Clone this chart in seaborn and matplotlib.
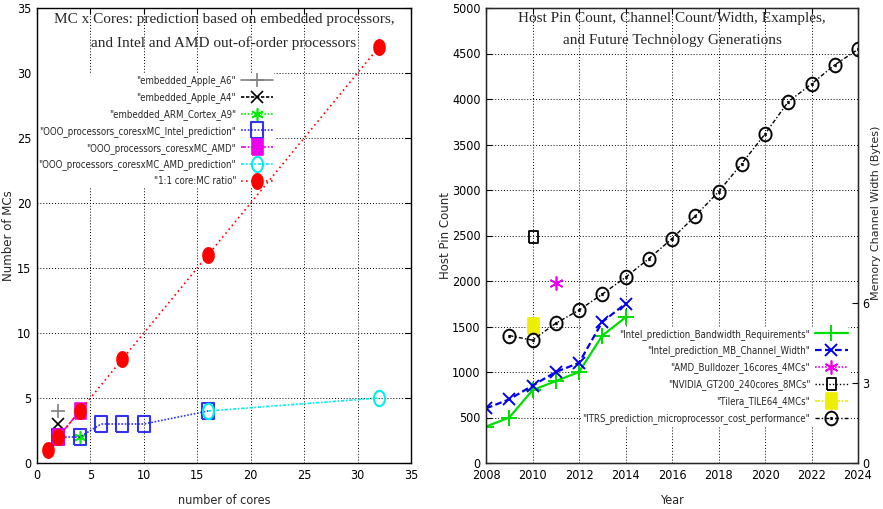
import numpy as np
import matplotlib
matplotlib.use("Agg")
import matplotlib.pyplot as plt
import seaborn as sns

# left panel: MCs vs cores
apple_a6_cores = [2]
apple_a6_mcs = [4]
apple_a4_cores = [2]
apple_a4_mcs = [3]
arm_a9_cores = [4]
arm_a9_mcs = [2]
intel_pred_cores = [2, 4, 6, 8, 10, 16]
intel_pred_mcs = [2, 2, 3, 3, 3, 4]
amd_cores = [2, 4]
amd_mcs = [2, 4]
amd_pred_cores = [16, 32]
amd_pred_mcs = [4, 5]
ratio_cores = [1, 2, 4, 8, 16, 32]
ratio_mcs = [1, 2, 4, 8, 16, 32]

# right panel: pin count vs year
intel_bw_years = [2008, 2009, 2010, 2011, 2012, 2013, 2014]
intel_bw_pins = [400, 500, 800, 900, 1000, 1400, 1600]
intel_cw_years = [2008, 2009, 2010, 2011, 2012, 2013, 2014]
intel_cw_pins = [600, 700, 850, 1000, 1100, 1550, 1750]
bulldozer_years = [2011]
bulldozer_pins = [1975]
gt200_years = [2010]
gt200_pins = [2480]
tilera_years = [2010]
tilera_pins = [1510]
itrs_years = list(range(2009, 2025))
itrs_pins = [1400, 1350, 1535, 1680, 1855, 2040, 2245, 2465, 2715, 2980,
             3290, 3615, 3970, 4165, 4375, 4545]
width_ticks = [0, 3, 6]

sns.set_style("white")
plt.rcParams["font.family"] = ["DejaVu Sans"]
plt.rcParams["font.stretch"] = "condensed"
SERIF = ["Liberation Serif", "DejaVu Serif"]

# gnuplot-ish tall marker shapes
t = np.linspace(0, 2 * np.pi, 33)
TALL_BOX = [(-0.72, -1), (0.72, -1), (0.72, 1), (-0.72, 1), (-0.72, -1)]
TALL_OVAL = list(zip(0.72 * np.cos(t), np.sin(t)))

fig = plt.figure(figsize=(8.83, 5.09), dpi=100)
W, H = 883, 509
ax1 = fig.add_axes([37 / W, 1 - 463 / H, 374 / W, 455 / H])
ax2 = fig.add_axes([486 / W, 1 - 463 / H, 372 / W, 455 / H])


def style_axes(ax):
    for s in ax.spines.values():
        s.set_color("black")
        s.set_linewidth(1.0)
    ax.grid(True, color="black", linestyle=(0, (1, 2)), linewidth=0.7)
    ax.tick_params(direction="in", length=4, labelsize=9, top=True,
                   colors="black", pad=4)
    ax.set_axisbelow(True)


def draw(ax, xs, ys, lab, color, **kw):
    kw.setdefault("markeredgecolor", color)
    kw.setdefault("markeredgewidth", 1.2)
    kw.setdefault("linewidth", 1.2)
    sns.lineplot(x=xs, y=ys, ax=ax, label=lab, color=color, **kw)


def gnu_legend(ax, anchor):
    leg = ax.legend(loc="upper right", bbox_to_anchor=anchor,
                    markerfirst=False, frameon=True, framealpha=1,
                    edgecolor="none", fontsize=6.9, handlelength=3.4,
                    labelspacing=0.62, borderpad=0.2, handletextpad=0.5)
    leg._legend_box.align = "right"
    leg.set_zorder(1)
    return leg


# ---- left panel
draw(ax1, apple_a6_cores, apple_a6_mcs, '"embedded_Apple_A6"', "gray",
     marker="+", markersize=10, linestyle="-")
draw(ax1, apple_a4_cores, apple_a4_mcs, '"embedded_Apple_A4"', "black",
     marker="x", markersize=8, linestyle=(0, (2, 1)))
draw(ax1, arm_a9_cores, arm_a9_mcs, '"embedded_ARM_Cortex_A9"', "#00ee00",
     marker=(6, 2, 0), markersize=9, linestyle=(0, (1, 1)))
draw(ax1, intel_pred_cores, intel_pred_mcs,
     '"OOO_processors_coresxMC_Intel_prediction"', "#1010ee",
     marker=TALL_BOX, markersize=12, markerfacecolor="none",
     markeredgewidth=1.5, linestyle=(0, (1, 1)), alpha=0.85)
draw(ax1, amd_cores, amd_mcs, '"OOO_processors_coresxMC_AMD"', "#ee00ee",
     marker=TALL_BOX, markersize=11, linestyle=(0, (3, 1, 1, 1)))
draw(ax1, amd_pred_cores, amd_pred_mcs,
     '"OOO_processors_coresxMC_AMD_prediction"', "#00eeee",
     marker=TALL_OVAL, markersize=11, markerfacecolor="none",
     markeredgewidth=1.5, linestyle=(0, (2, 1, 1, 1)))
draw(ax1, ratio_cores, ratio_mcs, '"1:1 core:MC ratio"', "red",
     marker=TALL_OVAL, markersize=11, linestyle=(0, (1, 2)))

ax1.set_xlim(0, 35)
ax1.set_ylim(0, 35)
ax1.set_xticks(range(0, 36, 5))
ax1.set_yticks(range(0, 36, 5))
style_axes(ax1)
ax1.tick_params(right=True)
ax1.set_xlabel("number of cores", fontsize=9, labelpad=9)
ax1.set_ylabel("Number of MCs", fontsize=8.5, stretch="normal")
ax1.yaxis.set_label_coords(-0.058, 0.5)
ax1.text(0.5, 0.988, "MC x Cores: prediction based on embedded processors,\n"
         "and Intel and AMD out-of-order processors",
         transform=ax1.transAxes, ha="center", va="top", fontsize=11,
         family=SERIF, stretch="normal", linespacing=1.9)
gnu_legend(ax1, (0.65, 0.867))

# ---- right panel
draw(ax2, intel_bw_years, intel_bw_pins,
     '"Intel_prediction_Bandwidth_Requirements"', "#00dd00",
     marker="+", markersize=11, linestyle="-", linewidth=1.6,
     markeredgewidth=1.4)
draw(ax2, intel_cw_years, intel_cw_pins,
     '"Intel_prediction_MB_Channel_Width"', "#0000ee",
     marker="x", markersize=9, linestyle=(0, (3, 1.5)), linewidth=1.6,
     markeredgewidth=1.4)
draw(ax2, bulldozer_years, bulldozer_pins, '"AMD_Bulldozer_16cores_4MCs"',
     "#ee00ee", marker=(6, 2, 0), markersize=10, linestyle=(0, (1, 1)))
draw(ax2, gt200_years, gt200_pins, '"NVIDIA_GT200_240cores_8MCs"', "black",
     marker=TALL_BOX, markersize=9, markerfacecolor="none",
     markeredgewidth=1.3, linestyle=(0, (1, 1.5)), linewidth=1.0)
draw(ax2, tilera_years, tilera_pins, '"Tilera_TILE64_4MCs"', "#eeee00",
     marker=TALL_BOX, markersize=11, linestyle=(0, (3, 1, 1, 1)))
draw(ax2, itrs_years, itrs_pins,
     '"ITRS_prediction_microprocessor_cost_performance"', "black",
     marker="$\\odot$", markersize=11, markeredgewidth=0.2,
     linestyle=(0, (3, 1.5, 1, 1.5)), linewidth=1.0)

ax2.set_xlim(2008, 2024)
ax2.set_ylim(0, 5000)
ax2.set_xticks(range(2008, 2025, 2))
ax2.set_yticks(range(0, 5001, 500))
style_axes(ax2)
ax2.set_xlabel("Year", fontsize=9, labelpad=9)
ax2.set_ylabel("Host Pin Count", fontsize=8.5, stretch="normal")
ax2.yaxis.set_label_coords(-0.092, 0.5)
ax2.text(0.5, 0.992, "Host Pin Count, Channel Count/Width, Examples,\n"
         "and Future Technology Generations",
         transform=ax2.transAxes, ha="center", va="top", fontsize=11,
         family=SERIF, stretch="normal", linespacing=1.9)

# secondary axis: memory channel width in bytes
ax2r = ax2.twinx()
ax2r.set_ylim(0, 17.06)
ax2r.set_yticks(width_ticks)
ax2r.tick_params(direction="in", length=4, labelsize=9, colors="black",
                 pad=3)
ax2r.set_ylabel("Memory Channel Width (Bytes)", fontsize=8,
                stretch="normal")
ax2r.yaxis.set_label_coords(1.036, 0.55)

gnu_legend(ax2, (0.99, 0.31))

fig.savefig("out.png", dpi=100)
